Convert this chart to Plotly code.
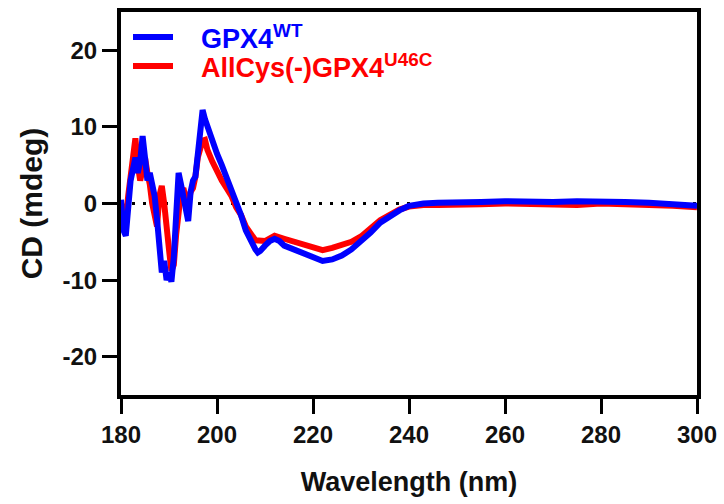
import plotly.graph_objects as go

# Wavelength (nm) and CD (mdeg) values
wl_wt = [180, 180.5, 181, 181.5, 182, 183, 183.5, 184, 184.5, 185, 185.5, 186, 187, 187.5, 188, 188.5, 189, 189.5, 190, 190.5, 191, 191.5, 192, 192.5, 193, 193.5, 194, 194.5, 195, 195.5, 196, 196.5, 197, 197.5, 198, 199, 200, 201, 202, 203, 204, 205, 206, 207, 208, 208.5, 209, 210, 211, 212, 213, 214, 216, 218, 220, 222, 224, 226, 228, 230, 232, 234, 236, 238, 240, 243, 246, 250, 255, 260, 265, 270, 275, 280, 285, 290, 295, 300]
cd_wt = [0.5, -3.5, -4.2, 0.5, 3.0, 6.0, 4.0, 5.5, 8.8, 6.0, 3.0, 4.0, 1.0, -2.0, -5.0, -9.0, -7.5, -10.0, -9.0, -10.2, -7.0, -2.0, 4.0, 2.5, 1.0, -1.0, -2.3, 1.5, 3.0, 3.5, 6.0, 9.5, 12.2, 11.0, 10.0, 8.5, 6.5, 5.0, 3.5, 1.8, 0.2, -1.5, -3.5, -5.0, -6.0, -6.4, -6.2, -5.5, -4.9, -4.6, -4.9, -5.5, -6.0, -6.6, -7.1, -7.5, -7.3, -6.8, -6.0, -5.0, -3.8, -2.5, -1.6, -0.9, -0.3, 0.0, 0.1, 0.1, 0.2, 0.3, 0.2, 0.2, 0.3, 0.3, 0.2, 0.1, -0.1, -0.3]

wl_mut = [180, 180.5, 181, 181.5, 182, 182.5, 183, 183.5, 184, 184.5, 185, 185.5, 186, 186.5, 187, 187.5, 188, 188.5, 189, 189.5, 190, 190.5, 191, 191.5, 192, 192.5, 193, 193.5, 194, 194.5, 195, 195.5, 196, 196.5, 197, 197.5, 198, 199, 200, 201, 202, 203, 204, 205, 206, 207, 208, 210, 212, 214, 216, 218, 220, 222, 224, 226, 228, 230, 232, 234, 236, 238, 240, 243, 246, 250, 255, 260, 265, 270, 275, 280, 285, 290, 295, 300]
cd_mut = [0.0, -1.0, -2.0, 1.0, 4.0, 7.0, 8.5, 5.0, 3.0, 4.5, 6.0, 4.0, 2.5, 0.0, -2.0, -3.0, 1.0, 2.3, 0.0, -4.0, -6.0, -8.8, -8.0, -4.0, 0.0, 1.5, 2.0, 0.5, 0.0, 1.5, 2.0, 3.5, 6.0, 7.5, 8.2, 8.3, 7.0, 5.5, 4.0, 3.0, 2.0, 1.0, -0.5, -1.5, -3.0, -4.0, -4.8, -4.9, -4.2, -4.6, -5.0, -5.5, -5.8, -6.1, -5.8, -5.5, -5.0, -4.3, -3.2, -2.2, -1.5, -0.8, -0.4, -0.2, -0.2, -0.2, -0.1, 0.0, -0.1, -0.1, -0.2, 0.0, -0.1, -0.1, -0.3, -0.5]

x_ticks = [180, 200, 220, 240, 260, 280, 300]
y_ticks = [-20, -10, 0, 10, 20]

series_names = ["GPX4<sup>WT</sup>", "AllCys(-)GPX4<sup>U46C</sup>"]
series_colors = ["#0000ff", "#ff0000"]

FONT = "Liberation Sans, Arial, sans-serif"
INK = "#111111"

fig = go.Figure()

# zero reference line (dotted)
fig.add_trace(go.Scatter(x=[180, 300], y=[0, 0], mode="lines",
                         line=dict(color="black", width=3, dash="3px,8px"),
                         showlegend=False, hoverinfo="skip"))

fig.add_trace(go.Scatter(x=wl_mut, y=cd_mut, mode="lines",
                         line=dict(color=series_colors[1], width=6),
                         name=series_names[1], showlegend=False))
fig.add_trace(go.Scatter(x=wl_wt, y=cd_wt, mode="lines",
                         line=dict(color=series_colors[0], width=6),
                         name=series_names[0], showlegend=False))

# legend drawn as line samples + annotations (paper coordinates)
PLOT_H = 504 - 12 - 109
PLOT_W = 724 - 121 - 27
legend_rows_px = [37, 66]
for name, col, ypx in zip(series_names, series_colors, legend_rows_px):
    yp = (395 - ypx) / PLOT_H
    fig.add_shape(type="line", xref="paper", yref="paper",
                  x0=(133 - 121) / PLOT_W, x1=(173 - 121) / PLOT_W, y0=yp, y1=yp,
                  line=dict(color=col, width=6))
    fig.add_annotation(xref="paper", yref="paper", x=(199 - 121) / PLOT_W, y=yp,
                       xanchor="left", yanchor="middle", showarrow=False,
                       text=f"<b>{name}</b>",
                       font=dict(family=FONT, size=27, color=col))

axis_common = dict(showline=True, linecolor="black", linewidth=4, mirror=True,
                   ticks="outside", ticklen=15, tickwidth=3, tickcolor="black",
                   showgrid=False, zeroline=False,
                   tickfont=dict(family=FONT, size=24, color=INK))

fig.update_xaxes(range=[180, 300], tickvals=x_ticks,
                 ticktext=[f"<b>{v}</b>" for v in x_ticks],
                 title=dict(text="<b>Wavelength (nm)</b>", font=dict(family=FONT, size=27, color=INK),
                            standoff=26),
                 **axis_common)
fig.update_yaxes(range=[-25, 25], tickvals=y_ticks,
                 ticktext=[f"<b>{v}</b>" for v in y_ticks],
                 title=dict(text="<b>CD (mdeg)</b>", font=dict(family=FONT, size=30, color=INK),
                            standoff=12),
                 **axis_common)

fig.update_layout(
    width=724, height=504,
    margin=dict(l=121, r=27, t=12, b=109, autoexpand=False),
    plot_bgcolor="white", paper_bgcolor="white",
    font=dict(family=FONT),
    showlegend=False,
)

fig.write_html("out.html", config={"displayModeBar": False},
               post_script="document.body.style.margin='0px';")
